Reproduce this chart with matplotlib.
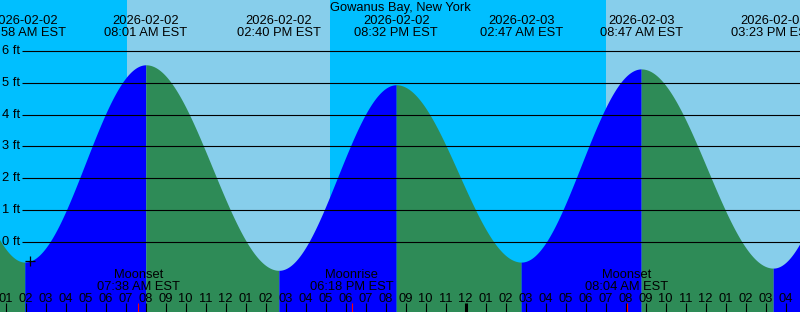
import numpy as np
import pandas as pd
import matplotlib
matplotlib.use("Agg")
import matplotlib.pyplot as plt

plt.rcParams["font.family"] = ["Liberation Sans", "DejaVu Sans"]
FS = 9.3

title = "Gowanus Bay, New York"
day0 = pd.Timestamp("2026-02-02 00:00")

# tide extremes (first and last are just outside the window)
tide_times = ["2026-02-01 20:30", "2026-02-02 01:58", "2026-02-02 08:01",
              "2026-02-02 14:40", "2026-02-02 20:32", "2026-02-03 02:47",
              "2026-02-03 08:47", "2026-02-03 15:23", "2026-02-03 21:00"]
tide_heights = [5.0, -0.65, 5.58, -0.91, 4.95, -0.65, 5.45, -0.84, 5.0]

# sun: night / day boundaries
sunrise_1 = "2026-02-02 07:04"
sunset_1 = "2026-02-02 17:13"
sunrise_2 = "2026-02-03 07:02"

moon_events = ["Moonset", "Moonrise", "Moonset"]
moon_times = ["2026-02-02 07:38", "2026-02-02 18:18", "2026-02-03 08:04"]

now_time = "2026-02-02 02:13"

ft_levels = [0, 1, 2, 3, 4, 5, 6]

NIGHT = "#00bfff"
DAY = "#87ceeb"
FLOOD = "#0000ff"
EBB = "#2e8b57"

x_start, x_end = 0.725, 40.725
y_bottom, y_top = -2.226, 7.626


def hrs(s):
    return (pd.Timestamp(s) - day0) / pd.Timedelta(hours=1)


def fmt_time(s):
    return pd.Timestamp(s).strftime("%I:%M %p EST")


def py(pix):
    # pixel row from top -> axes fraction
    return 1 - pix / 312.0


t_ext = np.array([hrs(s) for s in tide_times])
h_ext = np.array(tide_heights)


def tide_at(t):
    i = np.clip(np.searchsorted(t_ext, t) - 1, 0, len(t_ext) - 2)
    t0, t1 = t_ext[i], t_ext[i + 1]
    h0, h1 = h_ext[i], h_ext[i + 1]
    p = (t - t0) / (t1 - t0)
    return h0 + (h1 - h0) * (1 - np.cos(np.pi * p)) / 2


fig = plt.figure(figsize=(8, 3.12), dpi=100)
ax = fig.add_axes([0, 0, 1, 1])
ax.set_xlim(x_start, x_end)
ax.set_ylim(y_bottom, y_top)
ax.axis("off")

# background
sr1, ss1, sr2 = hrs(sunrise_1), hrs(sunset_1), hrs(sunrise_2)
ax.axvspan(x_start, sr1, color=NIGHT, lw=0, zorder=0)
ax.axvspan(sr1, ss1, color=DAY, lw=0, zorder=0)
ax.axvspan(ss1, sr2, color=NIGHT, lw=0, zorder=0)
ax.axvspan(sr2, x_end, color=DAY, lw=0, zorder=0)

# tide fill, coloured by rising / falling
for i in range(len(t_ext) - 1):
    tt = np.linspace(t_ext[i], t_ext[i + 1], 300)
    hh = tide_at(tt)
    col = FLOOD if h_ext[i + 1] > h_ext[i] else EBB
    ax.fill_between(tt, hh, y_bottom, color=col, lw=0, zorder=1)

# grid lines and ft labels
yt = ax.get_yaxis_transform()
ax.hlines(ft_levels, 22 / 800, 1, transform=yt, color="black", lw=0.8, zorder=2)
for lv in ft_levels:
    ax.text(2 / 800, lv, f"{lv} ft", transform=yt, ha="left", va="center",
            fontsize=FS, zorder=3)

xt = ax.get_xaxis_transform()

# title and tide event labels
ax.text(0.5, py(11.5), title, transform=ax.transAxes, ha="center",
        va="baseline", fontsize=FS, zorder=3)
for s, t in zip(tide_times, t_ext):
    if x_start - 2 < t < x_end + 2:
        ax.text(t, py(24), pd.Timestamp(s).strftime("%Y-%m-%d"), transform=xt,
                ha="center", va="baseline", fontsize=FS, zorder=3)
        ax.text(t, py(36), fmt_time(s), transform=xt,
                ha="center", va="baseline", fontsize=FS, zorder=3)

# hour ticks and labels
hours = np.arange(np.ceil(x_start), np.floor(x_end) + 1)
for h in hours:
    lw = 2.2 if h % 24 == 0 else 0.8
    ax.vlines(h, 0, py(303), transform=xt, color="black", lw=lw, zorder=3)
    ax.text(h, py(301.5), f"{(int(h) - 1) % 12 + 1:02d}", transform=xt,
            ha="center", va="baseline", fontsize=FS, zorder=3)

# moon events
for name, s in zip(moon_events, moon_times):
    t = hrs(s)
    ax.vlines(t, 0, py(303), transform=xt, color="red", lw=0.8, zorder=4)
    ax.text(t, py(278), name, transform=xt, ha="center", va="baseline",
            fontsize=FS, zorder=3)
    ax.text(t, py(290), fmt_time(s), transform=xt, ha="center",
            va="baseline", fontsize=FS, zorder=3)

# current time marker
tn = hrs(now_time)
ax.plot([tn], [tide_at(tn)], marker="+", color="black", ms=7, mew=0.9,
        zorder=4)

fig.savefig("out.png", dpi=100)
